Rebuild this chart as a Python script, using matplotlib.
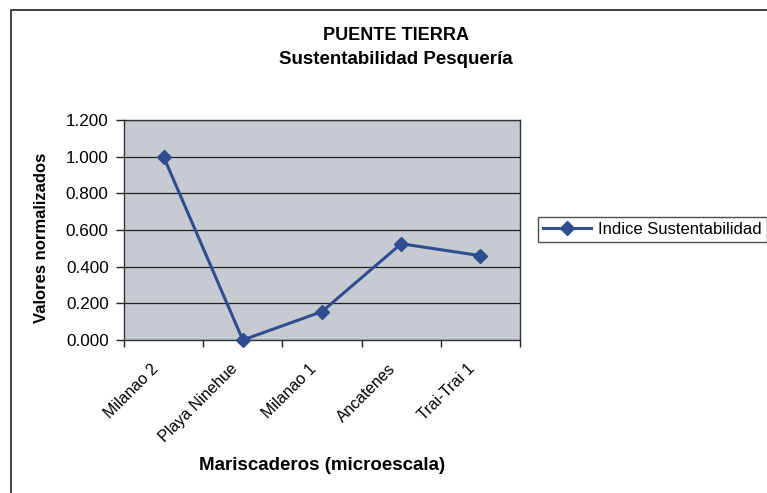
import numpy as np
import matplotlib
matplotlib.use("Agg")
import matplotlib.pyplot as plt
from matplotlib.patches import Rectangle
from matplotlib.transforms import ScaledTranslation

plt.rcParams["font.family"] = ["Liberation Sans", "DejaVu Sans"]

# data
sites = ["Milanao 2", "Playa Ninehue", "Milanao 1", "Ancatenes", "Trai-Trai 1"]
indice = [1.000, 0.000, 0.155, 0.525, 0.460]
yticks = [0.0, 0.2, 0.4, 0.6, 0.8, 1.0, 1.2]

W, H = 767, 493
fig = plt.figure(figsize=(W / 100, H / 100), dpi=100)

# outer chart frame (runs past the right/bottom edges, like the scan)
fig.add_artist(Rectangle((11 / W, -0.1), 1.2, 1 - 10 / H + 0.1,
                         transform=fig.transFigure, fill=False,
                         edgecolor="#222222", linewidth=1.2))

ax = fig.add_axes([124 / W, 1 - 340 / H, 396 / W, 220 / H])
ax.set_facecolor("#c6cbd2")

x = np.arange(len(sites))
line, = ax.plot(x, indice, color="#2f4d8f", linewidth=2.2, marker="D",
                markersize=7, markerfacecolor="#2f4d8f",
                markeredgecolor="#2f4d8f", label="Indice Sustentabilidad",
                clip_on=False, zorder=3)

ax.set_xlim(-0.5, len(sites) - 0.5)
ax.set_ylim(0, 1.2)
ax.set_yticks(yticks)
ax.set_yticklabels([f"{v:.3f}" for v in yticks], fontsize=12.3)
ax.yaxis.grid(True, color="#222222", linewidth=0.9)
ax.set_axisbelow(True)

# category labels: drawn as rotated texts, nudged left/down like the original
ax.set_xticks(x)
ax.set_xticklabels([])
ax.tick_params(axis="x", which="major", length=0)
lab_tr = ax.get_xaxis_transform() + ScaledTranslation(-0.13, -0.21,
                                                      fig.dpi_scale_trans)
for xi, name in zip(x, sites):
    ax.text(xi, 0, name, transform=lab_tr, rotation=45, ha="right",
            va="top", rotation_mode="anchor", fontsize=11.5)

ax.set_xticks(np.arange(-0.5, len(sites), 1.0), minor=True)
ax.tick_params(axis="x", which="minor", length=5, width=1, color="#222222")
ax.tick_params(axis="y", length=6, width=1, color="#222222", pad=5)

for s in ax.spines.values():
    s.set_color("#333333")
    s.set_linewidth(1.0)

ax.set_ylabel("Valores normalizados", fontsize=12, fontweight="bold")
ax.yaxis.set_label_coords(-(124 - 49) / 396, (340 - 238) / 220)
ax.set_xlabel("Mariscaderos (microescala)", fontsize=13.5, fontweight="bold")
ax.xaxis.set_label_coords(0.5, -(465 - 340) / 220)
ax.xaxis.label.set_va("center")

fig.text(396 / W, 1 - 35 / H, "PUENTE TIERRA", ha="center", va="center",
         fontsize=13, fontweight="bold")
fig.text(396 / W, 1 - 59 / H, "Sustentabilidad Pesquería", ha="center",
         va="center", fontsize=13.5, fontweight="bold")

leg = fig.legend(handles=[line], loc="center left",
                 bbox_to_anchor=(538 / W, 1 - 229 / H),
                 bbox_transform=fig.transFigure, fontsize=12,
                 frameon=True, fancybox=False, borderpad=0.3,
                 handlelength=2.9, handletextpad=0.4, borderaxespad=0)
leg.get_frame().set_edgecolor("#222222")
leg.get_frame().set_linewidth(1.0)

fig.savefig("out.png", dpi=100)
